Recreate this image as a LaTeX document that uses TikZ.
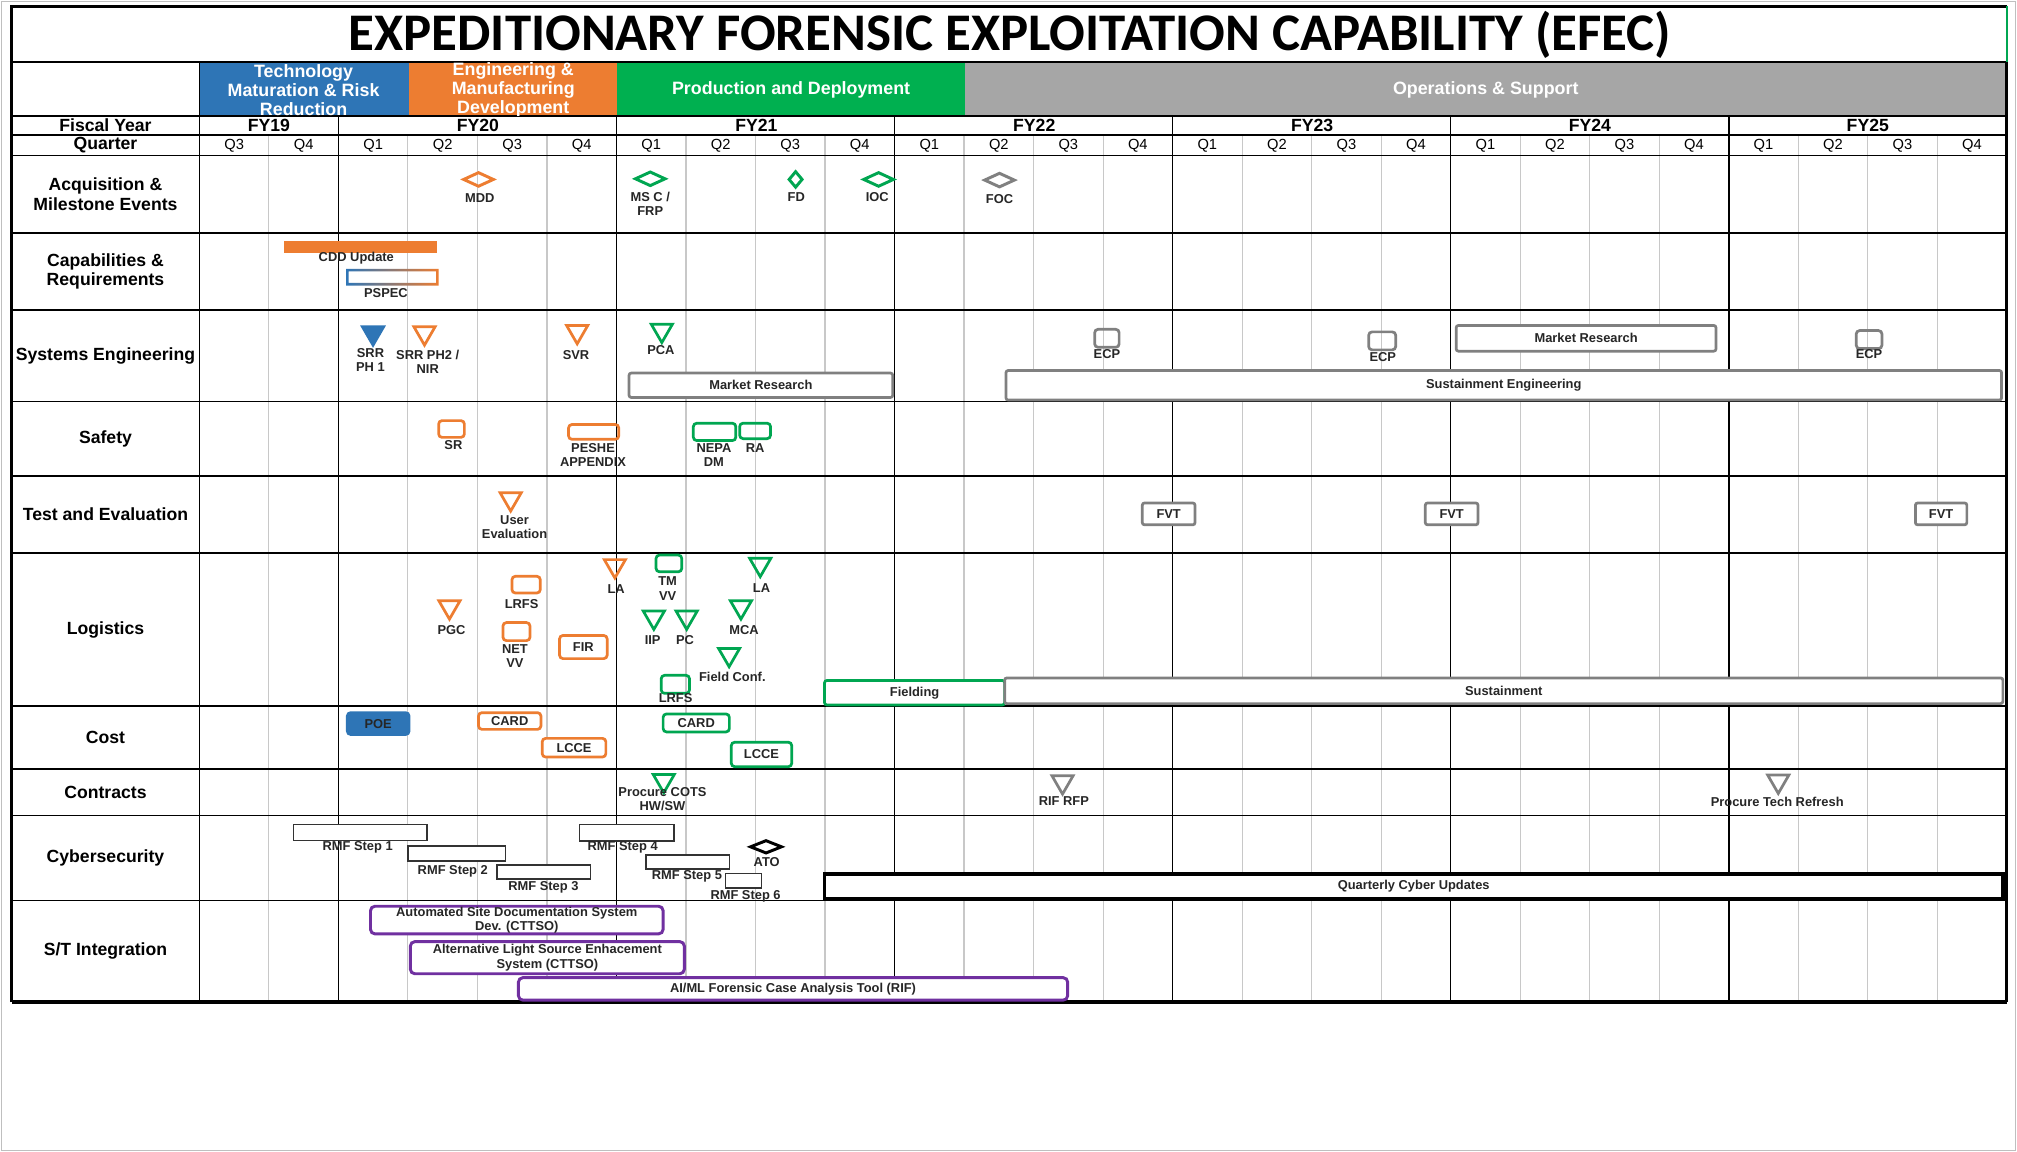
\documentclass[tikz,border=0pt]{standalone}
\usepackage{fontspec}
\setmainfont{Liberation Sans}
\newfontfamily\carlito{Carlito}
\usetikzlibrary{shapes.geometric, fit, positioning}
\definecolor{tmrr}{RGB}{46,117,182}
\definecolor{emd}{RGB}{237,125,49}
\definecolor{pd}{RGB}{0,176,80}
\definecolor{os}{RGB}{166,166,166}
\definecolor{msgreen}{RGB}{0,166,81}
\definecolor{msgray}{RGB}{128,128,128}
\definecolor{stpurple}{RGB}{112,48,160}
\definecolor{gridgray}{RGB}{200,200,200}
\newcommand{\lblfont}{\fontsize{5.7}{6.3}\selectfont\bfseries}
\newcommand{\rowfont}{\fontsize{7.8}{8.8}\selectfont\bfseries}
\newcommand{\phasefont}{\fontsize{7.9}{8.5}\selectfont\bfseries}
\newcommand{\qfont}{\fontsize{6.5}{7}\selectfont}
\newcommand{\titlefnt}{\carlito\bfseries\fontsize{23.4}{26}\selectfont}

\begin{document}
\begin{tikzpicture}[x=0.02cm, y=-0.02cm,
        qline/.style={gridgray, line width=0.5pt},
        fyline/.style={black, line width=0.7pt},
        rowline/.style={black, line width=0.7pt},
        rowlbl/.style={font=\rowfont, align=center, inner sep=0pt},
        phase/.style={font=\phasefont, text=white, align=center, inner sep=0pt},
        qlbl/.style={font=\qfont, inner sep=0pt},
        lbl/.style={font=\lblfont, align=center, inner sep=0pt, text=black!85},
        ms/.style={diamond, draw=#1, line width=1.3pt, inner sep=0pt, minimum width=0.48cm, minimum height=0.23cm},
        tri/.style={regular polygon, regular polygon sides=3, shape border rotate=180, draw=#1, line width=1.2pt, inner sep=0pt, minimum size=0.38cm, anchor=north},
        doc/.style={rectangle, draw=#1, line width=1.2pt, rounded corners=1.5pt, inner sep=0pt},
        box/.style={rectangle, draw=#1, line width=1.2pt, rounded corners=1.5pt, inner sep=0pt, fill=white},
        bar/.style={rectangle, draw=#1, line width=1.2pt, rounded corners=1pt, inner sep=0pt, fill=white},
        rmf/.style={rectangle, draw=black!80, line width=0.7pt, inner sep=0pt, fill=white},
        stbox/.style={rectangle, draw=stpurple, line width=1.3pt, rounded corners=2pt, inner sep=0pt, fill=white},
        txt/.style={label={[lbl]center:{#1}}}]

        \pgfmathsetmacro{\xo}{155}
        \pgfmathsetmacro{\qw}{54.04}

        \useasboundingbox (0,0) rectangle (1568,895);
        \fill[white] (0,0) rectangle (1568,895);
        \draw[gray!50, line width=0.4pt] (1,1) rectangle (1567,894);

        % Phases
        \fill[tmrr] (155,48) rectangle (318,90);
        \fill[emd] (318,48) rectangle (480,90);
        \fill[pd] (480,48) rectangle (750,90);
        \fill[os] (750,48) rectangle (1560,90);

        % Grid
        \foreach \q in {1,...,25}
            \draw[qline] ({\xo+\q*\qw},105) -- ({\xo+\q*\qw},779);
        \foreach \q in {0,2,6,10,14,18,22}
            \draw[fyline] ({\xo+\q*\qw},90) -- ({\xo+\q*\qw},779);
        \foreach \y in {48,90,105,121,181,241,312,370,430,549,598,634,700}
            \draw[rowline] (9,\y) -- (1560,\y);
        \draw[fyline] (155,48) -- (155,779);
        \draw[black, line width=1.1pt] (1560,48) -- (1560,779);
        \draw[black, line width=1.6pt] (9,779) -- (1560,779);
        \draw[black, line width=1.1pt] (9,779) -- (9,5) -- (1560,5);
        \draw[msgreen, line width=0.9pt] (1560,5) -- (1560,48);

        % Header
        \node[font=\titlefnt] (title) at (785,27.5) {EXPEDITIONARY FORENSIC EXPLOITATION CAPABILITY (EFEC)};
        \begin{scope}
            \clip (155,48) rectangle (1560,90);
            \node[phase] (phTMRR) at (236,70) {Technology\\Maturation \& Risk\\Reduction};
            \node[phase] (phEMD) at (399,70) {Engineering \&\\Manufacturing\\Development};
            \node[phase] (phPD) at (615,70) {Production and Deployment};
            \node[phase] (phOS) at (1155,70) {Operations \& Support};
        \end{scope}
        \node[rowlbl] (fiscal) at (82,97.5) {Fiscal Year};
        \node[rowlbl] (quarter) at (82,113) {Quarter};
        \foreach \fy/\cx in {19/209, 20/371.5, 21/588, 22/804, 23/1020, 24/1236, 25/1452}
            \node[rowlbl] (fy\fy) at (\cx,97.5) {FY\fy};
        \foreach \i in {0,...,25} {
            \pgfmathtruncatemacro{\qn}{mod(\i+2,4)+1}
            \node[qlbl] (q\i) at ({\xo+(\i+0.5)*\qw},113) {Q\qn};
        }

        % Row labels
        \node[rowlbl] (acq) at (82,151) {Acquisition \&\\Milestone Events};
        \node[rowlbl] (cap) at (82,211) {Capabilities \&\\Requirements};
        \node[rowlbl] (se) at (82,276.5) {Systems Engineering};
        \node[rowlbl] (safety) at (82,341) {Safety};
        \node[rowlbl] (te) at (82,400) {Test and Evaluation};
        \node[rowlbl] (log) at (82,489.5) {Logistics};
        \node[rowlbl] (cost) at (82,573.5) {Cost};
        \node[rowlbl] (con) at (82,616) {Contracts};
        \node[rowlbl] (cyber) at (82,667) {Cybersecurity};
        \node[rowlbl] (st) at (82,739.5) {S/T Integration};

        % Acquisition & Milestone Events
        \node[ms=emd] (mdd) at (372,139.5) {};
        \node[lbl] (mddl) at (373,154) {MDD};
        \node[ms=msgreen] (msc) at (505.5,139) {};
        \node[lbl] (mscl) at (505.5,158.5) {MS C /\\FRP};
        \node[ms=msgreen, minimum width=0.22cm, minimum height=0.26cm] (fd) at (618.5,139.5) {};
        \node[lbl] (fdl) at (619,153.5) {FD};
        \node[ms=msgreen] (ioc) at (683,139.5) {};
        \node[lbl] (iocl) at (682,153.5) {IOC};
        \node[ms=msgray] (foc) at (777,140) {};
        \node[lbl] (focl) at (777,155) {FOC};

        % Capabilities & Requirements
        \node[fill=emd, inner sep=0pt, fit={(221,187) (340,197)}] (cdd) {};
        \node[lbl] (cddl) at (277,201) {CDD Update};
        \shade[left color=tmrr, middle color=gray!30, right color=emd, even odd rule]
            (269,209) rectangle (341,222) (271,211) rectangle (339,220);
        \node[inner sep=0pt, fit={(269,209) (341,222)}] (pspec) {};
        \node[lbl] (pspecl) at (300,228) {PSPEC};

        % Systems Engineering
        \node[tri=tmrr, fill=tmrr] (srr1) at (290,253) {};
        \node[lbl] (srr1l) at (288,279.7) {SRR\\PH 1};
        \node[tri=emd] (srr2) at (330,253) {};
        \node[lbl] (srr2l) at (332.5,281.2) {SRR PH2 /\\NIR};
        \node[tri=emd] (svr) at (448.7,252) {};
        \node[lbl] (svrl) at (447.8,276) {SVR};
        \node[tri=msgreen] (pca) at (514.5,251) {};
        \node[lbl] (pcal) at (513.8,272.5) {PCA};
        \node[bar=msgray, txt=Market Research, fit={(489,290) (694,309)}] (mr1) {};
        \node[doc=msgray, fit={(851,256) (870,270)}] (ecp1) {};
        \node[lbl] (ecp1l) at (860.5,275.5) {ECP};
        \node[doc=msgray, fit={(1064,258) (1085,272)}] (ecp2) {};
        \node[lbl] (ecp2l) at (1075,277.5) {ECP};
        \node[bar=msgray, txt=Market Research, fit={(1132,253) (1334,273)}] (mr2) {};
        \node[doc=msgray, fit={(1443,257) (1463,271)}] (ecp3) {};
        \node[lbl] (ecp3l) at (1453,275) {ECP};
        \node[bar=msgray, txt=Sustainment Engineering, fit={(782,288) (1556,311)}] (sustse) {};

        % Safety
        \node[doc=emd, fit={(341,327) (361,340)}] (sr) {};
        \node[lbl] (srl) at (352.5,346) {SR};
        \node[doc=emd, fit={(442,330) (481,341.5)}] (peshe) {};
        \node[lbl] (peshel) at (461,354) {PESHE\\APPENDIX};
        \node[doc=msgreen, fit={(539,329) (572,342.5)}] (nepa) {};
        \node[lbl] (nepal) at (555,354) {NEPA\\DM};
        \node[doc=msgreen, fit={(575,329) (599,341)}] (ra) {};
        \node[lbl] (ral) at (587,348) {RA};

        % Test and Evaluation
        \node[tri=emd] (ue) at (397,382) {};
        \node[lbl] (uel) at (400,409.5) {User\\Evaluation};
        \node[bar=msgray, txt=FVT, fit={(888,391) (929,408)}] (fvt1) {};
        \node[bar=msgray, txt=FVT, fit={(1108,391) (1149,408)}] (fvt2) {};
        \node[bar=msgray, txt=FVT, fit={(1489,391) (1529,408)}] (fvt3) {};

        % Logistics
        \node[tri=emd] (la1) at (478,434) {};
        \node[lbl] (la1l) at (479,458) {LA};
        \node[doc=msgreen, fit={(510,431.5) (530,444.5)}] (tmvv) {};
        \node[lbl] (tmvvl) at (519,457.6) {TM\\VV};
        \node[tri=msgreen] (la2) at (591,433) {};
        \node[lbl] (la2l) at (592,457.3) {LA};
        \node[doc=emd, fit={(398,448) (420,461)}] (lrfs1) {};
        \node[lbl] (lrfs1l) at (405.5,469.5) {LRFS};
        \node[tri=emd] (pgc) at (349.4,466) {};
        \node[lbl] (pgcl) at (351,489.5) {PGC};
        \node[doc=emd, fit={(391,484) (412,498)}] (netvv) {};
        \node[lbl] (netvvl) at (400.3,510) {NET\\VV};
        \node[box=emd, txt=FIR, fit={(435,494) (472,512)}] (fir) {};
        \node[tri=msgreen] (iip) at (508.3,474) {};
        \node[lbl] (iipl) at (507.4,497.5) {IIP};
        \node[tri=msgreen] (pc) at (533.8,474) {};
        \node[lbl] (pcl) at (532.5,497.5) {PC};
        \node[tri=msgreen] (mca) at (576,466) {};
        \node[lbl] (mcal) at (578.4,489.7) {MCA};
        \node[tri=msgreen] (fc) at (566.8,503) {};
        \node[lbl] (fcl) at (569.3,526) {Field Conf.};
        \node[doc=msgreen, fit={(514,525) (536,539)}] (lrfs2) {};
        \node[lbl] (lrfs2l) at (525.2,542.9) {LRFS};
        \node[bar=msgreen, txt=Fielding, fit={(641,529) (781,548)}] (fielding) {};
        \node[bar=msgray, txt=Sustainment, fit={(781,527) (1557,547)}] (sust) {};

        % Cost
        \node[box=tmrr, fill=tmrr, txt=POE, fit={(270,554) (318,571)}] (poe) {};
        \node[box=emd, txt=CARD, fit={(372,554) (420.5,567)}] (card1) {};
        \node[box=emd, txt=LCCE, fit={(421.5,574) (471,588.5)}] (lcce1) {};
        \node[box=msgreen, txt=CARD, fit={(515.5,555) (567,569)}] (card2) {};
        \node[box=msgreen, txt=LCCE, fit={(568.5,577) (615.5,596)}] (lcce2) {};

        % Contracts
        \node[tri=msgreen] (cots) at (516,601) {};
        \node[lbl] (cotsl) at (515,621.5) {Procure COTS\\HW/SW};
        \node[tri=msgray] (rif) at (826,602) {};
        \node[lbl] (rifl) at (827,623) {RIF RFP};
        \node[tri=msgray] (ptr) at (1382.4,601.5) {};
        \node[lbl] (ptrl) at (1381.6,623) {Procure Tech Refresh};

        % Cybersecurity
        \node[rmf, fit={(228,641) (332,653.5)}] (step1) {};
        \node[lbl] (step1l) at (278,658.5) {RMF Step 1};
        \node[rmf, fit={(317,657.5) (393,669.5)}] (step2) {};
        \node[lbl] (step2l) at (352,677.5) {RMF Step 2};
        \node[rmf, fit={(386.5,672.5) (459,683.5)}] (step3) {};
        \node[lbl] (step3l) at (422.4,690) {RMF Step 3};
        \node[rmf, fit={(450.5,641) (524,654)}] (step4) {};
        \node[lbl] (step4l) at (484,659) {RMF Step 4};
        \node[rmf, fit={(502,664.5) (567,675.5)}] (step5) {};
        \node[lbl] (step5l) at (534,681) {RMF Step 5};
        \node[rmf, fit={(564,679) (592,690.5)}] (step6) {};
        \node[lbl] (step6l) at (579.6,696.5) {RMF Step 6};
        \node[ms=black, minimum width=0.5cm, minimum height=0.21cm] (ato) at (595.5,658.3) {};
        \node[lbl] (atol) at (596,670) {ATO};
        \node[bar=black, line width=1.5pt, rounded corners=0pt, txt=Quarterly Cyber Updates, fit={(641,679.5) (1557,699)}] (qcu) {};

        % S/T Integration
        \node[stbox, txt={Automated Site Documentation System\\Dev. (CTTSO)}, fit={(288,704.5) (515.5,726)}] (asds) {};
        \node[stbox, txt={Alternative Light Source Enhacement\\System (CTTSO)}, fit={(319,732) (532,757)}] (alse) {};
        \node[stbox, txt={AI/ML Forensic Case Analysis Tool (RIF)}, fit={(403,760) (830,777.5)}] (aiml) {};

\end{tikzpicture}
\end{document}
